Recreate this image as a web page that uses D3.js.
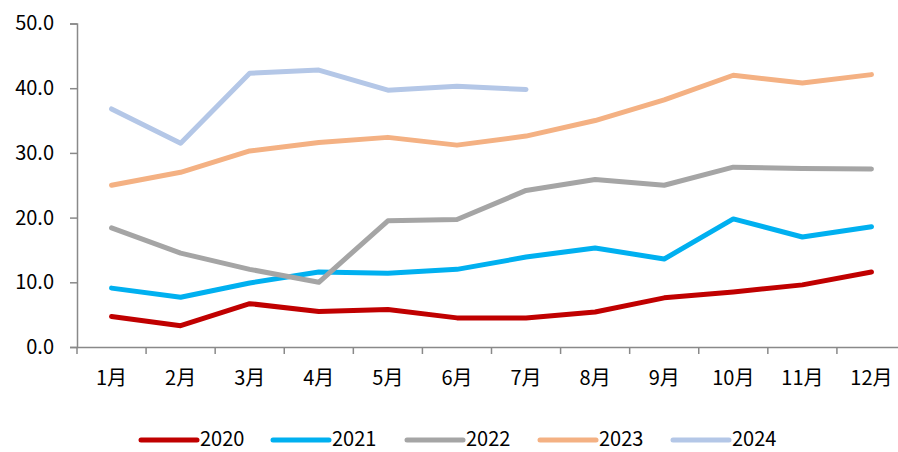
<!DOCTYPE html>
<html><head><meta charset="utf-8">
<script src="https://cdn.jsdelivr.net/npm/d3@7"></script>
<style>body{margin:0;background:#fff}svg{display:block}text{font-family:"Noto Sans CJK SC","Noto Sans",sans-serif;fill:#000}</style>
</head><body><svg id="c" width="898" height="452"></svg>
<script>
const months = ["1月","2月","3月","4月","5月","6月","7月","8月","9月","10月","11月","12月"];
const years = ["2020","2021","2022","2023","2024"];
const s2020 = [4.7,3.3,6.7,5.5,5.8,4.5,4.5,5.4,7.6,8.5,9.6,11.6];
const s2021 = [9.1,7.7,9.9,11.6,11.4,12.0,13.9,15.3,13.6,19.8,17.0,18.6];
const s2022 = [18.4,14.5,12.0,10.0,19.5,19.7,24.2,25.9,25.0,27.8,27.6,27.5];
const s2023 = [25.0,27.0,30.3,31.6,32.4,31.2,32.6,35.0,38.2,42.0,40.8,42.1];
const s2024 = [36.8,31.5,42.3,42.8,39.7,40.3,39.8];
const yTicks = [0,10,20,30,40,50];
const colors = ["#C00000","#00B0F0","#A5A5A5","#F4B183","#B4C7E7"];
const seriesVals = [s2020,s2021,s2022,s2023,s2024];

const svg = d3.select("#c");
const x = d3.scaleBand().domain(months).range([77,906]);
const y = d3.scaleLinear().domain([0,50]).range([347,23.5]);
const axisColor = "#898989";

// y axis
const ya = svg.append("g").attr("transform","translate(77,0)")
  .call(d3.axisLeft(y).tickValues(yTicks).tickSize(7).tickPadding(16).tickFormat(d3.format(".1f")));
ya.select(".domain").attr("stroke",axisColor).attr("stroke-width",1.5);
ya.selectAll(".tick line").attr("stroke",axisColor).attr("stroke-width",1.5);
ya.selectAll("text").style("font-size","20px").attr("fill","#000");

// x axis
const xa = svg.append("g").attr("transform","translate(0,347)")
  .call(d3.axisBottom(x).tickSize(0).tickPadding(24));
xa.select(".domain").attr("stroke",axisColor).attr("stroke-width",1.5);
xa.selectAll("text").style("font-size","20px").attr("fill","#000");
// band boundary ticks
const bounds = months.map(m => x(m)).concat([x.range()[1]]);
svg.append("g").selectAll("line").data(bounds).join("line")
  .attr("x1",d=>d).attr("x2",d=>d).attr("y1",347).attr("y2",354)
  .attr("stroke",axisColor).attr("stroke-width",1.5);

const line = d3.line().x((d,i)=>x(months[i])+x.bandwidth()/2).y(d=>y(d));
seriesVals.forEach((vals,k)=>{
  svg.append("path").datum(vals).attr("d",line)
    .attr("fill","none").attr("stroke",colors[k]).attr("stroke-width",5)
    .attr("stroke-linecap","round").attr("stroke-linejoin","round");
});

// legend
const legX = [141,273,407,540,673];
const leg = svg.append("g");
years.forEach((yr,k)=>{
  leg.append("line").attr("x1",legX[k]).attr("x2",legX[k]+56).attr("y1",440).attr("y2",440)
    .attr("stroke",colors[k]).attr("stroke-width",5).attr("stroke-linecap","round");
  leg.append("text").attr("x",legX[k]+59).attr("y",439).attr("dy","0.36em")
    .style("font-size","20px").text(yr);
});
</script></body></html>
